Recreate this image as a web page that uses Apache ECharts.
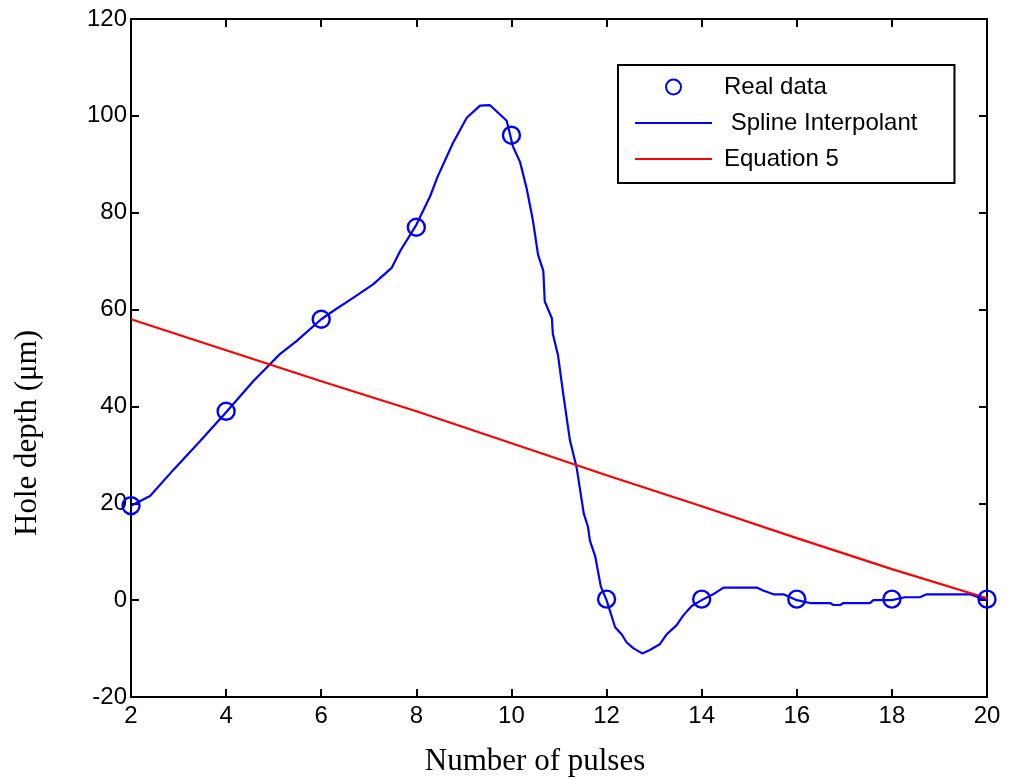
<!DOCTYPE html>
<html><head><meta charset="utf-8">
<script src="https://cdn.jsdelivr.net/npm/echarts@6/dist/echarts.min.js"></script>
<style>html,body{margin:0;padding:0;background:#fff}#c{width:1009px;height:779px}</style>
</head><body><div id="c"></div>
<script>
const pulses = [2,4,6,8,10,12,14,16,18,20];
const realDepth = [19.5,39,58,77,96,0.2,0.2,0.2,0.2,0.2];
const equation5 = [58,51.6,45.2,39,32.4,25.8,19.4,12.8,6.4,0.4];
const splineX = [2,2.4,2.9,3.45,4,4.57,4.85,5.13,5.48,6,6.25,6.67,7.09,7.48,7.66,8,8.29,8.45,8.77,9.06,9.34,9.55,9.9,10.03,10.18,10.32,10.45,10.56,10.67,10.7,10.85,10.87,10.98,11.09,11.23,11.37,11.52,11.61,11.65,11.76,11.88,12,12.18,12.32,12.42,12.56,12.75,12.91,13.12,13.26,13.47,13.61,13.79,14,14.24,14.46,15.16,15.29,15.51,15.72,16,16.28,16.7,16.77,16.91,16.98,17.54,17.61,18,18.27,18.59,18.73,19.64,20];
const splineY = [19.5,21.5,27,32.8,38.8,45.2,48,50.8,53.5,58,59.7,62.4,65.2,68.6,72.1,77.5,83.4,87.5,94.4,99.6,102.1,102.2,99,93.7,90.5,85,78.5,71.3,68,61.7,58.2,55,50.5,42.5,33,27.4,17.9,15.1,12.3,9.1,2.8,0,-5.6,-7.1,-8.7,-9.9,-11,-10.3,-9.1,-7.1,-5.2,-3.2,-1.2,0,1.2,2.6,2.6,2.0,1.2,1.2,0,-0.6,-0.6,-1,-1,-0.6,-0.6,0,0,0.6,0.6,1.2,1.2,0];
const xTicks = {min:2,max:20,interval:2};
const yTicks = {min:-20,max:120,interval:20};

const chart = echarts.init(document.getElementById('c'));
const axisLine = {show:true,onZero:false,lineStyle:{color:'#000',width:2}};
const tickIn = {show:true,inside:true,length:8,lineStyle:{color:'#000',width:2}};
const lineIcon = 'path://M0,0L77,0L77,2.2L0,2.2Z';
chart.setOption({
  animation:false,
  backgroundColor:'#fff',
  grid:{left:131,right:22,top:19,bottom:82,containLabel:false,outerBoundsMode:'none'},
  legend:{
    left:618, top:65,
    orient:'vertical',
    itemWidth:77, itemHeight:15, itemGap:12,
    padding:[10,37,12,17],
    borderColor:'#000', borderWidth:2,
    backgroundColor:'#fff',
    textStyle:{fontFamily:'Liberation Sans, Arial',fontSize:24,color:'#000',padding:[0,0,0,7]},
    data:[
      {name:'Real data'},
      {name:' Spline Interpolant', icon:lineIcon},
      {name:'Equation 5', icon:lineIcon}
    ]
  },
  xAxis:[{
    type:'value', min:xTicks.min, max:xTicks.max, interval:xTicks.interval,
    name:'Number of pulses', nameLocation:'middle', nameGap:49,
    nameTextStyle:{fontFamily:'Liberation Serif, Times New Roman',fontSize:31,color:'#000',padding:[0,48,0,0]},
    axisLine:axisLine, axisTick:tickIn, splitLine:{show:false},
    axisLabel:{fontFamily:'Liberation Sans, Arial',fontSize:24,color:'#000',margin:7}
  },{
    type:'value', position:'top', min:xTicks.min, max:xTicks.max, interval:xTicks.interval,
    axisLine:axisLine, axisTick:tickIn, splitLine:{show:false}, axisLabel:{show:false}
  }],
  yAxis:[{
    type:'value', min:yTicks.min, max:yTicks.max, interval:yTicks.interval,
    name:'Hole depth (μm)', nameLocation:'middle', nameGap:88,
    nameTextStyle:{fontFamily:'Liberation Serif, Times New Roman',fontSize:31,color:'#000',padding:[0,150,0,0]},
    axisLine:axisLine, axisTick:tickIn, splitLine:{show:false},
    axisLabel:{fontFamily:'Liberation Sans, Arial',fontSize:24,color:'#000',margin:4}
  },{
    type:'value', position:'right', min:yTicks.min, max:yTicks.max, interval:yTicks.interval,
    axisLine:axisLine, axisTick:tickIn, splitLine:{show:false}, axisLabel:{show:false}
  }],
  series:[
    {name:'Real data', type:'scatter', symbol:'circle', symbolSize:17,
     itemStyle:{color:'rgba(0,0,0,0)',borderColor:'#0000ff',borderWidth:2.4,opacity:1}, z:3,
     data:pulses.map((p,i)=>[p,realDepth[i]])},
    {name:' Spline Interpolant', type:'line', symbol:'none', smooth:false,
     lineStyle:{color:'#0000ff',width:2.2}, itemStyle:{color:'#0000ff'},
     data:splineX.map((p,i)=>[p,splineY[i]])},
    {name:'Equation 5', type:'line', symbol:'none',
     lineStyle:{color:'#ff0000',width:2.2}, itemStyle:{color:'#ff0000'},
     data:pulses.map((p,i)=>[p,equation5[i]])}
  ]
});
</script></body></html>
